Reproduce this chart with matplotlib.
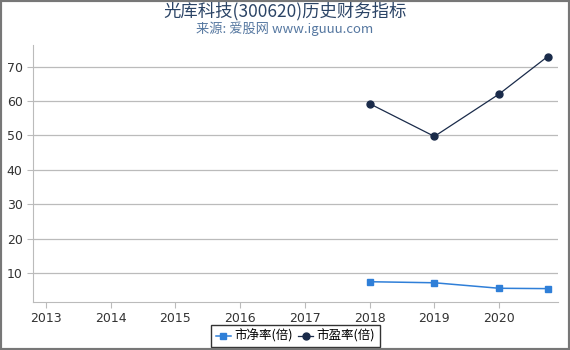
import matplotlib
matplotlib.use("Agg")
import matplotlib.pyplot as plt
from matplotlib.patches import Rectangle

plt.rcParams['font.family'] = ['Noto Sans CJK SC', 'DejaVu Sans']

years = [2013, 2014, 2015, 2016, 2017, 2018, 2019, 2020]
x_pts = [2018.0, 2019.0, 2020.0, 2020.75]
pb = [7.5, 7.2, 5.6, 5.5]
pe = [59.2, 49.7, 62.0, 72.9]
yticks = [10, 20, 30, 40, 50, 60, 70]

fig = plt.figure(figsize=(5.7, 3.5), dpi=100)
ax = fig.add_axes([0.058, 0.137, 0.921, 0.734])

ax.plot(x_pts, pb, color='#2f7fd8', marker='s', markersize=5, linewidth=1.1, label='市净率(倍)')
ax.plot(x_pts, pe, color='#1a2b4a', marker='o', markersize=5, linewidth=0.9, label='市盈率(倍)')

ax.set_xlim(2012.8, 2020.91)
ax.set_ylim(1.6, 76.2)
ax.set_xticks(years)
ax.set_xticklabels([str(y) for y in years], family='DejaVu Sans')
ax.set_yticks(yticks)
ax.set_yticklabels([str(v) for v in yticks], family='DejaVu Sans')
ax.grid(axis='y', color='#bbbbbb', linewidth=0.9)
ax.set_axisbelow(True)
for s in ['top', 'right']:
    ax.spines[s].set_visible(False)
ax.spines['left'].set_color('#bbbbbb')
ax.spines['bottom'].set_color('#bbbbbb')
ax.tick_params(axis='both', colors='#bbbbbb', labelcolor='#333333', labelsize=9, length=4)

fig.text(0.5, 0.968, '光库科技(300620)历史财务指标', ha='center', va='center', fontsize=12.5, color='#2b4466')
fig.text(0.5, 0.918, '来源: 爱股网 www.iguuu.com', ha='center', va='center', fontsize=9.5, color='#5577a0')

leg = ax.legend(loc='upper center', bbox_to_anchor=(0.5, -0.09), ncol=2, frameon=True, fancybox=False,
                fontsize=9, handlelength=1.2, handletextpad=0.3, columnspacing=0.4, borderpad=0.35,
                borderaxespad=0)
leg.get_frame().set_edgecolor('black')
leg.get_frame().set_linewidth(1.0)

fig.patches.append(Rectangle((0, 0), 1, 1, transform=fig.transFigure, fill=False,
                             edgecolor='#777777', linewidth=3))

fig.savefig('out.png', dpi=100)
